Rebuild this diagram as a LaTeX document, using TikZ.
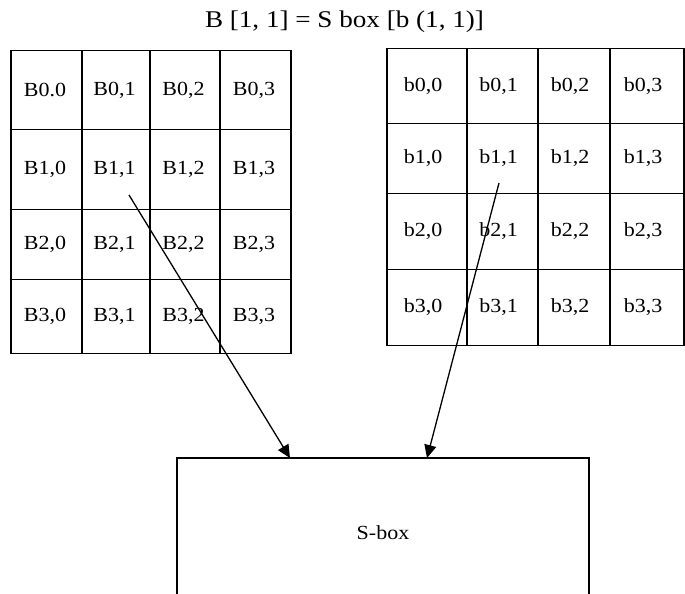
\documentclass[tikz,border=0pt]{standalone}
\usepackage{fontspec}
\setmainfont{Liberation Serif}
\newfontfamily\headfont[FakeStretch=1.13]{Liberation Serif}
\newfontfamily\cellfont[FakeStretch=1.1]{Liberation Serif}
\usetikzlibrary{arrows.meta}
\begin{document}
\begin{tikzpicture}[x=1pt,y=-1pt,
  cell/.style={draw, line width=1.4pt, inner sep=0pt, font=\cellfont\fontsize{20}{20}\selectfont},
  arr/.style={line width=1.3pt, -{Triangle[length=13pt,width=12pt]}},
  ]
\clip (0,0) rectangle (685,594);
\fill[white] (0,0) rectangle (685,594);
% heading
\node[font=\headfont\fontsize{24}{24}\selectfont, anchor=base, inner sep=0pt] (title) at (344.5,27.5)
  {B [1, 1] = S box [b (1, 1)]};
% left state grid
\foreach \c/\xa/\xb in {0/11/82,1/82/150,2/150/220,3/220/291}
  \foreach \r/\ya/\yb in {0/49/128,1/128/208,2/208/278,3/278/352}
    \node[cell, minimum width={\xb pt-\xa pt}, minimum height={\yb pt-\ya pt}]
      (L\r\c) at ({(\xa+\xb)/2},{(\ya+\yb)/2+1.5}) {\ifnum\r\c=00 B0.0\else B\r,\c\fi\kern3pt};
% right state grid (labels sit a little left of centre)
\foreach \c/\xa/\xb in {0/387/467,1/467/538,2/538/610,3/610/684}
  \foreach \r/\ya/\yb in {0/47/122,1/122/192,2/192/268,3/268/344}
    \node[cell, minimum width={\xb pt-\xa pt}, minimum height={\yb pt-\ya pt}]
      (R\r\c) at ({(\xa+\xb)/2},{(\ya+\yb)/2+1.5}) {b\r,\c\kern8pt};
% substitution box
\node[draw, line width=1.4pt, minimum width=412pt, minimum height=150pt, inner sep=0pt,
  font=\cellfont\fontsize{20}{20}\selectfont] (sbox) at (383,533) {S-box};
\coordinate (lsrc) at (129,195);
\coordinate (rsrc) at (499,183);
\coordinate (ltgt) at (290,458);
\coordinate (rtgt) at (427,458);
\draw[arr] (lsrc) -- (ltgt);
\draw[arr] (rsrc) -- (rtgt);
\end{tikzpicture}
\end{document}
